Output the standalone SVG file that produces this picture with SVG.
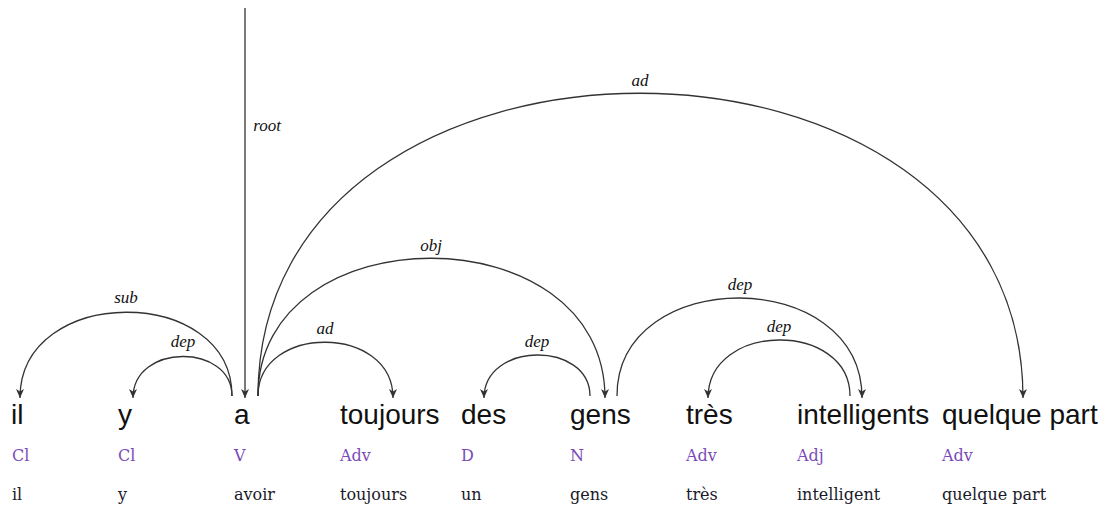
<svg xmlns="http://www.w3.org/2000/svg" width="1109" height="508" viewBox="0 0 1109 508">
<style>
.word{font-family:"Liberation Sans",Arial,sans-serif;font-size:28px;fill:#111;}
.pos{font-family:"DejaVu Serif","Liberation Serif",serif;font-size:16px;fill:#7a4bb8;}
.lem{font-family:"DejaVu Serif","Liberation Serif",serif;font-size:16px;fill:#1a1a2a;}
.lbl{font-family:"Liberation Serif",serif;font-style:italic;font-size:17px;fill:#111;text-anchor:middle;}
.arc{fill:none;stroke:#333;stroke-width:1.3;}
</style>
<defs>
<marker id="ah" markerUnits="userSpaceOnUse" markerWidth="10" markerHeight="8" refX="9" refY="4" orient="auto">
<path d="M0,0 L9,4 L0,8 L2.5,4 z" fill="#333"/>
</marker>
</defs>
<rect width="1109" height="508" fill="#fff"/>
<g id="connectors">
<path class="arc" d="M245,8 L245,398" marker-end="url(#ah)"/>
<path class="arc" d="M232,396 C232,284 20,284 20,398" marker-end="url(#ah)"/>
<path class="arc" d="M232,396 C232,343 133,343 133,398" marker-end="url(#ah)"/>
<path class="arc" d="M258,396 C258,324 393,324 393,398" marker-end="url(#ah)"/>
<path class="arc" d="M258,396 C258,212 605,212 605,398" marker-end="url(#ah)"/>
<path class="arc" d="M258,396 C258,-8 1023,-8 1023,398" marker-end="url(#ah)"/>
<path class="arc" d="M590,396 C590,341 484,341 484,398" marker-end="url(#ah)"/>
<path class="arc" d="M617,396 C617,265 862,265 862,398" marker-end="url(#ah)"/>
<path class="arc" d="M850,396 C850,321 708,321 708,398" marker-end="url(#ah)"/>
<text class="lbl" x="267" y="131">root</text>
<text class="lbl" x="126" y="303">sub</text>
<text class="lbl" x="183" y="347">dep</text>
<text class="lbl" x="325" y="334">ad</text>
<text class="lbl" x="431" y="251">obj</text>
<text class="lbl" x="640" y="86">ad</text>
<text class="lbl" x="537" y="347">dep</text>
<text class="lbl" x="740" y="290">dep</text>
<text class="lbl" x="779" y="332">dep</text>
</g>
<g id="n1"><text class="word" x="11" y="424">il</text><text class="pos" x="12" y="461">Cl</text><text class="lem" x="12" y="500">il</text></g>
<g id="n2"><text class="word" x="118" y="424">y</text><text class="pos" x="118" y="461">Cl</text><text class="lem" x="118" y="500">y</text></g>
<g id="n3"><text class="word" x="234" y="424">a</text><text class="pos" x="234" y="461">V</text><text class="lem" x="234" y="500">avoir</text></g>
<g id="n4"><text class="word" x="340" y="424">toujours</text><text class="pos" x="340" y="461">Adv</text><text class="lem" x="340" y="500">toujours</text></g>
<g id="n5"><text class="word" x="461" y="424">des</text><text class="pos" x="461" y="461">D</text><text class="lem" x="461" y="500">un</text></g>
<g id="n6"><text class="word" x="570" y="424">gens</text><text class="pos" x="570" y="461">N</text><text class="lem" x="570" y="500">gens</text></g>
<g id="n7"><text class="word" x="686" y="424">très</text><text class="pos" x="686" y="461">Adv</text><text class="lem" x="686" y="500">très</text></g>
<g id="n8"><text class="word" x="797" y="424">intelligents</text><text class="pos" x="797" y="461">Adj</text><text class="lem" x="797" y="500">intelligent</text></g>
<g id="n9"><text class="word" x="942" y="424">quelque part</text><text class="pos" x="942" y="461">Adv</text><text class="lem" x="942" y="500">quelque part</text></g>
</svg>
